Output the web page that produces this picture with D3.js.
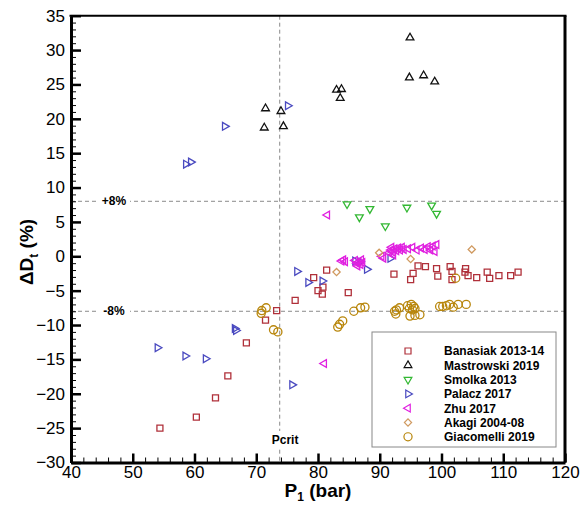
<!DOCTYPE html>
<html><head><meta charset="utf-8">
<script src="https://cdn.jsdelivr.net/npm/d3@7"></script>
<style>body{margin:0;background:#fff}text{font-family:"Liberation Sans",Arial,sans-serif}</style>
</head><body><svg id="c" width="587" height="506"></svg>
<script>
const banasiak = [[54.4,-25.0],[60.3,-23.4],[63.4,-20.6],[65.4,-17.4],[68.4,-12.6],[71.5,-9.3],[73.3,-7.9],[76.3,-6.4],[79.3,-3.1],[80.0,-5.0],[80.8,-4.5],[80.7,-5.5],[81.4,-2.0],[84.9,-5.3],[92.3,-2.6],[95.0,-3.4],[95.4,-2.5],[96.2,-1.4],[97.4,-1.5],[99.2,-1.8],[99.4,-2.9],[101.4,-1.5],[101.7,-2.2],[101.7,-3.4],[103.9,-1.8],[103.8,-2.3],[104.3,-2.8],[105.7,-3.1],[107.4,-2.3],[107.8,-3.2],[109.3,-2.8],[111.2,-2.8],[112.4,-2.3]];
const mastrowski = [[71.5,21.5],[71.3,18.7],[74.0,21.1],[74.4,18.9],[83.0,24.2],[83.8,24.3],[83.6,23.0],[94.9,31.8],[94.8,26.0],[97.1,26.3],[98.9,25.4]];
const smolka = [[84.7,7.6],[86.7,5.7],[88.4,6.9],[90.9,4.4],[94.4,7.1],[98.4,7.4],[99.2,6.2]];
const palacz = [[54.0,-13.3],[58.5,-14.5],[61.8,-14.9],[66.5,-10.5],[66.7,-10.8],[58.6,13.4],[59.4,13.7],[64.9,18.9],[75.1,21.9],[75.8,-18.7],[76.6,-2.2],[78.4,-3.8],[80.7,-3.6],[86.0,-0.7],[86.8,-0.8],[87.9,-1.9],[91.7,-0.3]];
const zhu = [[81.5,6.0],[81.0,-15.6],[83.8,-0.7],[84.4,-0.8],[84.1,-0.5],[86.0,-0.6],[86.3,-1.0],[86.6,-0.8],[86.9,-1.2],[87.2,-0.9],[86.4,-1.4],[87.0,-0.5],[90.3,0.0],[90.6,-0.3],[91.5,0.5],[91.8,0.9],[92.1,0.6],[92.4,1.1],[92.7,0.8],[93.0,1.2],[93.3,0.9],[93.6,1.3],[93.9,1.0],[92.2,0.2],[91.9,1.3],[94.6,1.1],[95.3,1.3],[96.0,0.9],[96.7,1.2],[97.3,1.0],[97.8,1.4],[98.2,0.9],[98.6,1.5],[99.2,1.7],[98.9,0.7]];
const akagi = [[83.0,-2.3],[89.9,0.5],[95.0,-0.4],[104.9,1.0]];
const giacomelli = [[70.9,-7.9],[71.6,-7.5],[70.8,-8.3],[72.8,-10.7],[73.5,-11.0],[83.2,-10.3],[83.5,-9.9],[84.0,-9.4],[85.8,-8.0],[86.9,-7.5],[87.6,-7.4],[92.4,-8.0],[92.7,-7.8],[92.6,-8.4],[93.2,-7.5],[94.5,-7.2],[94.8,-7.6],[95.1,-7.0],[95.3,-7.8],[95.5,-7.3],[95.7,-7.6],[94.9,-8.7],[95.7,-8.6],[96.5,-8.5],[99.7,-7.3],[100.2,-7.3],[100.8,-7.2],[101.3,-7.0],[101.9,-7.4],[102.7,-7.0],[104.0,-7.0],[102.3,-3.2]];

const seriesNames = ["Banasiak 2013-14","Mastrowski 2019","Smolka 2013","Palacz 2017","Zhu 2017","Akagi 2004-08","Giacomelli 2019"];
const seriesData = [banasiak, mastrowski, smolka, palacz, zhu, akagi, giacomelli];
const xTicks = [40,50,60,70,80,90,100,110,120];
const yTicks = [-30,-25,-20,-15,-10,-5,0,5,10,15,20,25,30,35];
const refLevels = [8,-8];
const refLabels = ["+8%","-8%"];
const pCrit = 73.8;

const colors = ["#b0303a","#111111","#33b833","#4a4ac0","#e020e0","#d09a60","#b8860b"];
const shapes = ["square","up","down","right","left","diamond","circle"];

const svg = d3.select("#c");
const x = d3.scaleLinear().domain([40,120]).range([71,565]);
const y = d3.scaleLinear().domain([-30,35]).range([462.5,15.7]);

function marker(sel, shape){
  let sym, size, rot = 0;
  if(shape==="square"){sym=d3.symbolSquare;size=36;}
  else if(shape==="diamond"){sym=d3.symbolSquare;size=26;rot=45;}
  else if(shape==="circle"){sym=d3.symbolCircle;size=52;}
  else {sym=d3.symbolTriangle;size=26;rot={up:0,down:180,right:90,left:-90}[shape];}
  sel.append("path").attr("d", d3.symbol(sym,size)()).attr("transform", `rotate(${rot})`);
}

// reference lines
const gRef = svg.append("g").attr("stroke","#8a8a8a").attr("stroke-width",1).attr("stroke-dasharray","4,3");
refLevels.forEach(v=>{
  gRef.append("line").attr("x1",x(40)).attr("x2",x(120)).attr("y1",y(v)).attr("y2",y(v));
});
gRef.append("line").attr("x1",x(pCrit)).attr("x2",x(pCrit)).attr("y1",y(35)).attr("y2",y(-30));

refLevels.forEach((v,i)=>{
  svg.append("rect").attr("x",98).attr("y",y(v)-7).attr("width",32).attr("height",14).attr("fill","#fff");
  svg.append("text").attr("x",114).attr("y",y(v)).attr("dy","0.35em").attr("text-anchor","middle")
    .attr("font-size",12).attr("font-weight","bold").text(refLabels[i]);
});
svg.append("rect").attr("x",x(pCrit)-9).attr("y",431).attr("width",32).attr("height",16).attr("fill","#fff");
svg.append("text").attr("x",x(pCrit)-8).attr("y",444).attr("font-size",12).attr("font-weight","bold").text("Pcrit");

// markers
seriesData.forEach((data,i)=>{
  const g = svg.append("g").attr("fill","none").attr("stroke",colors[i]).attr("stroke-width",1.3);
  data.forEach(d=>{
    const m = g.append("g").attr("transform",`translate(${x(d[0])},${y(d[1])})`);
    marker(m, shapes[i]);
  });
});

// axes
const xAxis = svg.append("g").attr("transform",`translate(0,${y(-30)})`)
  .call(d3.axisBottom(x).tickValues(xTicks).tickSize(-9).tickSizeOuter(0).tickPadding(3));
const xMinor = svg.append("g").attr("transform",`translate(0,${y(-30)})`)
  .call(d3.axisBottom(x).tickValues(d3.range(40,121,2)).tickSize(-5).tickSizeOuter(0).tickFormat(""));
const yAxis = svg.append("g").attr("transform",`translate(${x(40)},0)`)
  .call(d3.axisLeft(y).tickValues(yTicks).tickSize(-10).tickSizeOuter(0).tickPadding(6));
const yMinor = svg.append("g").attr("transform",`translate(${x(40)},0)`)
  .call(d3.axisLeft(y).tickValues(d3.range(-30,36,1)).tickSize(-5).tickSizeOuter(0).tickFormat(""));
[xAxis,yAxis].forEach(a=>{
  a.select(".domain").attr("stroke","#000").attr("stroke-width",3);
  a.selectAll(".tick line").attr("stroke","#000").attr("stroke-width",2.5);
  a.selectAll(".tick text").attr("font-size",17).attr("fill","#000").attr("font-family","Liberation Sans, Arial, sans-serif");
});
[xMinor,yMinor].forEach(a=>{
  a.select(".domain").remove();
  a.selectAll(".tick line").attr("stroke","#000").attr("stroke-width",1);
});
// top & right borders
svg.append("line").attr("x1",x(40)-1.5).attr("x2",x(120)+1.5).attr("y1",y(35)).attr("y2",y(35)).attr("stroke","#000").attr("stroke-width",2);
svg.append("line").attr("x1",x(120)).attr("x2",x(120)).attr("y1",y(35)).attr("y2",y(-30)).attr("stroke","#000").attr("stroke-width",3);

// axis titles
const xl = svg.append("text").attr("x",318).attr("y",497).attr("text-anchor","middle")
  .attr("font-size",19).attr("font-weight","bold");
xl.append("tspan").text("P");
xl.append("tspan").attr("font-size",12).attr("dy",4).text("1");
xl.append("tspan").attr("dy",-4).text(" (bar)");
const yl = svg.append("text").attr("transform","translate(33,252) rotate(-90)").attr("text-anchor","middle")
  .attr("font-size",19).attr("font-weight","bold");
yl.append("tspan").text("ΔD");
yl.append("tspan").attr("font-size",12).attr("dy",5).text("t");
yl.append("tspan").attr("dy",-5).text(" (%)");

// legend
const lg = svg.append("g");
lg.append("rect").attr("x",372).attr("y",332).attr("width",184).attr("height",115).attr("fill","#fff").attr("stroke","#888").attr("stroke-width",1);
seriesNames.forEach((n,i)=>{
  const ry = 351 + i*14.3;
  const m = lg.append("g").attr("transform",`translate(408,${ry})`).attr("fill","none").attr("stroke",colors[i]).attr("stroke-width",1.2);
  marker(m, shapes[i]);
  lg.append("text").attr("x",444).attr("y",ry).attr("dy","0.36em").attr("font-size",12).attr("font-weight","bold").text(n);
});
</script></body></html>
